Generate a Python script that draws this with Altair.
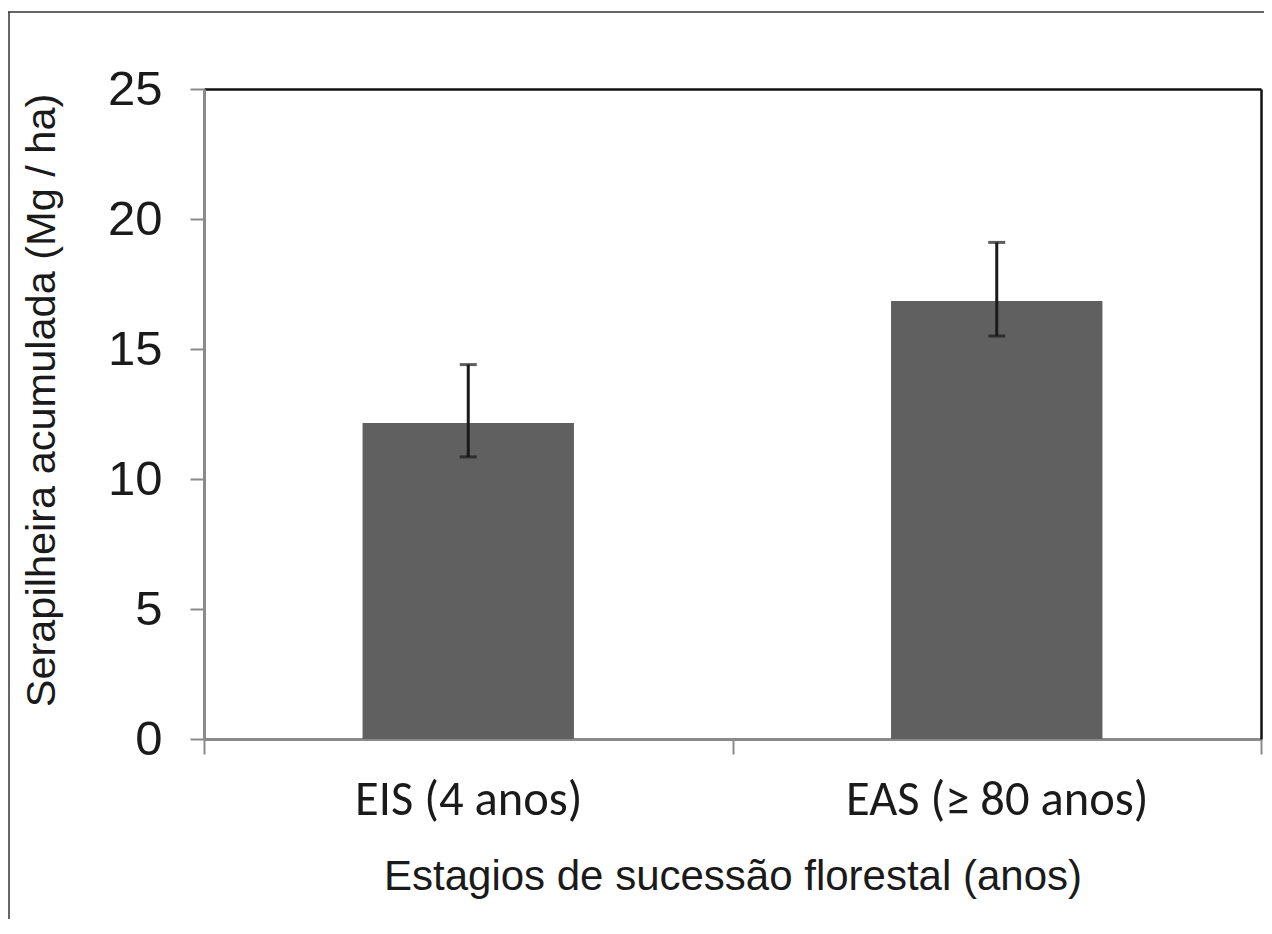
import altair as alt
import pandas as pd

categories = ["EIS (4 anos)", "EAS (≥ 80 anos)"]
means = [12.15, 16.85]
err_low = [10.85, 15.5]
err_high = [14.4, 19.1]
y_ticks = [0, 5, 10, 15, 20, 25]

df = pd.DataFrame({"cat": categories, "mean": means, "lo": err_low, "hi": err_high})

W, H = 1057, 650
GRAY = "#8a8a8a"
LABEL_FONT = "Liberation Sans"
CAT_FONT = "Calibri, Carlito, Lato"

xscale = alt.Scale(domain=categories, paddingInner=0, paddingOuter=0)
yscale = alt.Scale(domain=[0, 25], nice=False)

base = alt.Chart(df)

bars = base.mark_bar(color="#606060", width=alt.RelativeBandSize(0.4)).encode(
    x=alt.X("cat:N", scale=xscale, sort=categories,
            axis=alt.Axis(title="Estagios de sucessão florestal (anos)", labelAngle=0,
                          tickBand="extent", domainColor=GRAY, domainWidth=3,
                          tickColor=GRAY, tickWidth=2, tickSize=15, labelLimit=0,
                          labelFont=CAT_FONT, labelFontSize=48.5, labelColor="#1a1a1a",
                          labelPadding=22, titleFont=LABEL_FONT, titleFontSize=42,
                          titleFontWeight="normal", titleColor="#1a1a1a", titlePadding=33)),
    y=alt.Y("mean:Q", scale=yscale,
            axis=alt.Axis(title="Serapilheira acumulada (Mg / ha)", values=y_ticks, grid=False,
                          domainColor=GRAY, domainWidth=3, tickColor=GRAY, tickWidth=2,
                          tickSize=14, labelFont=LABEL_FONT, labelFontSize=49,
                          labelColor="#1a1a1a", labelPadding=28, titleFont=LABEL_FONT,
                          titleFontSize=41.5, titleFontWeight="normal", titleColor="#1a1a1a",
                          titlePadding=44, titleY=311)),
)

frame_axis = dict(labels=False, ticks=False, title=None, grid=False,
                  domainColor="#111111", domainWidth=2.5)

err = base.mark_rule(color="#1a1a1a", strokeWidth=3).encode(
    x=alt.X("cat:N", scale=xscale, sort=categories, axis=alt.Axis(orient="top", **frame_axis)),
    y=alt.Y("lo:Q", scale=yscale, axis=alt.Axis(orient="right", **frame_axis)),
    y2="hi:Q",
)

cap_lo = base.mark_tick(color="#1a1a1a", thickness=3, size=17).encode(
    x=alt.X("cat:N", scale=xscale, sort=categories, axis=None),
    y=alt.Y("lo:Q", scale=yscale, axis=None),
)
cap_hi = base.mark_tick(color="#1a1a1a", thickness=3, size=17).encode(
    x=alt.X("cat:N", scale=xscale, sort=categories, axis=None),
    y=alt.Y("hi:Q", scale=yscale, axis=None),
)

# outer figure frame (decoration)
fr = alt.Chart(pd.DataFrame({"k": [0]}))
frame_top = fr.mark_rule(color="#333333", strokeWidth=1.5).encode(
    x=alt.value(-196), x2=alt.value(1060), y=alt.value(-77))
frame_left = fr.mark_rule(color="#333333", strokeWidth=1.5).encode(
    x=alt.value(-195), y=alt.value(-77), y2=alt.value(900))

chart = alt.layer(bars, err, cap_lo, cap_hi, frame_top, frame_left).resolve_axis(
    x="independent", y="independent"
).properties(
    width=W, height=H,
    autosize=alt.AutoSizeParams(type="none"),
    padding={"left": 196, "top": 81, "right": 3, "bottom": 180},
).configure_view(stroke=None).configure(background="white")

chart.save("out.html", embed_options={"renderer": "svg", "actions": False})
